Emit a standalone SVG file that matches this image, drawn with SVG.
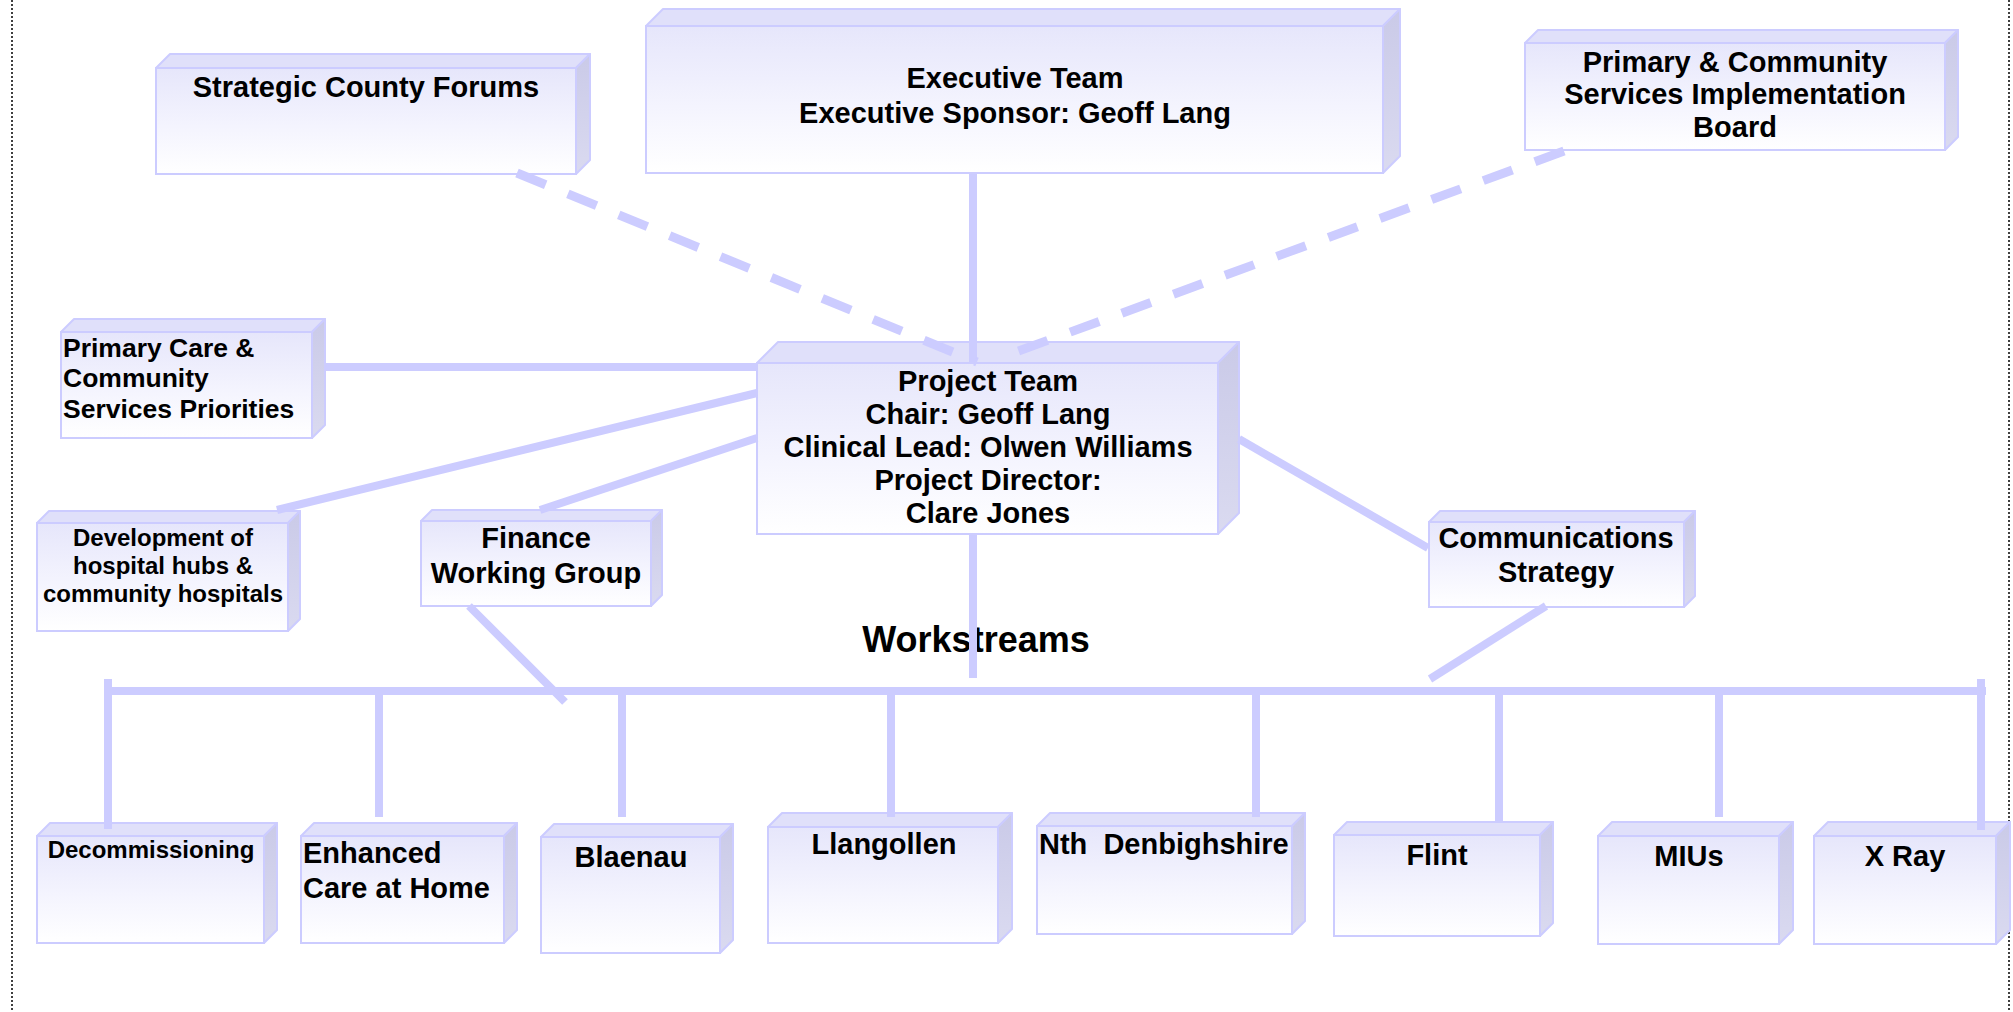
<svg xmlns="http://www.w3.org/2000/svg" width="2013" height="1012" viewBox="0 0 2013 1012">
<defs>
<linearGradient id="fg" x1="0" y1="0" x2="0" y2="1">
<stop offset="0" stop-color="#e6e6fb"/>
<stop offset="0.55" stop-color="#f4f4fe"/>
<stop offset="1" stop-color="#ffffff"/>
</linearGradient>
<linearGradient id="sg" x1="0" y1="0" x2="0" y2="1">
<stop offset="0" stop-color="#cacae8"/>
<stop offset="1" stop-color="#dadaf0"/>
</linearGradient>
</defs>
<style>
.front{fill:url(#fg);stroke:#ccccff;stroke-width:2}
.top{fill:#e0e0fa;stroke:#ccccff;stroke-width:2;stroke-linejoin:round}
.side{fill:url(#sg);stroke:#ccccff;stroke-width:2;stroke-linejoin:round}
text{font-family:"Liberation Sans",Arial,sans-serif;font-weight:bold;fill:#000}
.t28{font-size:29px}
.t25{font-size:26.5px}
.t23{font-size:24px}
.c{text-anchor:middle}
.ln{stroke:#ccccff;stroke-width:8;fill:none}
.dash{stroke:#ccccff;stroke-width:9;fill:none;stroke-dasharray:31 24}
.border{stroke:#000;stroke-width:1.5;stroke-dasharray:2 2;fill:none}
</style>
<rect width="2013" height="1012" fill="#ffffff"/>
<line class="border" x1="12" y1="0" x2="12" y2="1012"/>
<line class="border" x1="2009" y1="0" x2="2009" y2="1012"/>

<g id="strategic">
<polygon class="top" points="156,68 170,54 590,54 576,68"/>
<polygon class="side" points="576,68 590,54 590,160 576,174"/>
<rect class="front" x="156" y="68" width="420" height="106"/>
<text class="t28 c" x="366" y="97">Strategic County Forums</text>
</g>

<g id="executive">
<polygon class="top" points="646,26 663,9 1400,9 1383,26"/>
<polygon class="side" points="1383,26 1400,9 1400,156 1383,173"/>
<rect class="front" x="646" y="26" width="737" height="147"/>
<text class="t28 c" x="1015" y="88">Executive Team</text>
<text class="t28 c" x="1015" y="123">Executive Sponsor: Geoff Lang</text>
</g>

<g id="board">
<polygon class="top" points="1525,43 1538,30 1958,30 1945,43"/>
<polygon class="side" points="1945,43 1958,30 1958,137 1945,150"/>
<rect class="front" x="1525" y="43" width="420" height="107"/>
<text class="t28 c" x="1735" y="72">Primary &amp; Community</text>
<text class="t28 c" x="1735" y="104">Services Implementation</text>
<text class="t28 c" x="1735" y="137">Board</text>
</g>

<g id="primary-care">
<polygon class="top" points="61,332 74,319 325,319 312,332"/>
<polygon class="side" points="312,332 325,319 325,425 312,438"/>
<rect class="front" x="61" y="332" width="251" height="106"/>
<text class="t25" x="63" y="357">Primary Care &amp;</text>
<text class="t25" x="63" y="387">Community</text>
<text class="t25" x="63" y="418">Services Priorities</text>
</g>

<g id="project-team">
<polygon class="top" points="757,363 778,342 1239,342 1218,363"/>
<polygon class="side" points="1218,363 1239,342 1239,513 1218,534"/>
<rect class="front" x="757" y="363" width="461" height="171"/>
<text class="t28 c" x="988" y="391">Project Team</text>
<text class="t28 c" x="988" y="424">Chair: Geoff Lang</text>
<text class="t28 c" x="988" y="457">Clinical Lead: Olwen Williams</text>
<text class="t28 c" x="988" y="490">Project Director:</text>
<text class="t28 c" x="988" y="523">Clare Jones</text>
</g>

<g id="development">
<polygon class="top" points="37,523 49,511 300,511 288,523"/>
<polygon class="side" points="288,523 300,511 300,619 288,631"/>
<rect class="front" x="37" y="523" width="251" height="108"/>
<text class="t23 c" x="163" y="546">Development of</text>
<text class="t23 c" x="163" y="574">hospital hubs &amp;</text>
<text class="t23 c" x="163" y="602">community hospitals</text>
</g>

<g id="finance">
<polygon class="top" points="421,521 432,510 662,510 651,521"/>
<polygon class="side" points="651,521 662,510 662,595 651,606"/>
<rect class="front" x="421" y="521" width="230" height="85"/>
<text class="t28 c" x="536" y="548">Finance</text>
<text class="t28 c" x="536" y="583">Working Group</text>
</g>

<g id="communications">
<polygon class="top" points="1429,522 1440,511 1695,511 1684,522"/>
<polygon class="side" points="1684,522 1695,511 1695,596 1684,607"/>
<rect class="front" x="1429" y="522" width="255" height="85"/>
<text class="t28 c" x="1556" y="548">Communications</text>
<text class="t28 c" x="1556" y="582">Strategy</text>
</g>

<g id="workstreams-label">
<text class="c" x="976" y="652" style="font-size:36px">Workstreams</text>
</g>

<g id="decommissioning">
<polygon class="top" points="37,836 50,823 277,823 264,836"/>
<polygon class="side" points="264,836 277,823 277,930 264,943"/>
<rect class="front" x="37" y="836" width="227" height="107"/>
<text class="t23 c" x="151" y="858">Decommissioning</text>
</g>

<g id="enhanced-care">
<polygon class="top" points="301,836 314,823 517,823 504,836"/>
<polygon class="side" points="504,836 517,823 517,930 504,943"/>
<rect class="front" x="301" y="836" width="203" height="107"/>
<text class="t28" x="303" y="863">Enhanced</text>
<text class="t28" x="303" y="898">Care at Home</text>
</g>

<g id="blaenau">
<polygon class="top" points="541,837 554,824 733,824 720,837"/>
<polygon class="side" points="720,837 733,824 733,940 720,953"/>
<rect class="front" x="541" y="837" width="179" height="116"/>
<text class="t28 c" x="631" y="867">Blaenau</text>
</g>

<g id="llangollen">
<polygon class="top" points="768,827 782,813 1012,813 998,827"/>
<polygon class="side" points="998,827 1012,813 1012,929 998,943"/>
<rect class="front" x="768" y="827" width="230" height="116"/>
<text class="t28 c" x="884" y="854">Llangollen</text>
</g>

<g id="nth-denbighshire">
<polygon class="top" points="1037,826 1050,813 1305,813 1292,826"/>
<polygon class="side" points="1292,826 1305,813 1305,921 1292,934"/>
<rect class="front" x="1037" y="826" width="255" height="108"/>
<text class="t28" x="1039" y="854">Nth&#160; Denbighshire</text>
</g>

<g id="flint">
<polygon class="top" points="1334,835 1347,822 1553,822 1540,835"/>
<polygon class="side" points="1540,835 1553,822 1553,923 1540,936"/>
<rect class="front" x="1334" y="835" width="206" height="101"/>
<text class="t28 c" x="1437" y="865">Flint</text>
</g>

<g id="mius">
<polygon class="top" points="1598,836 1612,822 1793,822 1779,836"/>
<polygon class="side" points="1779,836 1793,822 1793,930 1779,944"/>
<rect class="front" x="1598" y="836" width="181" height="108"/>
<text class="t28 c" x="1689" y="866">MIUs</text>
</g>

<g id="xray">
<polygon class="top" points="1814,836 1828,822 2010,822 1996,836"/>
<polygon class="side" points="1996,836 2010,822 2010,930 1996,944"/>
<rect class="front" x="1814" y="836" width="182" height="108"/>
<text class="t28 c" x="1905" y="866">X Ray</text>
</g>

<g id="connectors">
<line class="ln" x1="973" y1="173" x2="973" y2="363"/>
<line class="dash" x1="517" y1="173" x2="977" y2="362"/>
<line class="dash" x1="1564" y1="151" x2="1005" y2="356"/>
<line class="ln" x1="325" y1="367" x2="757" y2="367"/>
<line class="ln" x1="277" y1="510" x2="757" y2="393"/>
<line class="ln" x1="540" y1="510" x2="757" y2="438"/>
<line class="ln" x1="1239" y1="439" x2="1428" y2="548"/>
<line class="ln" x1="469" y1="606" x2="565" y2="702"/>
<line class="ln" x1="1546" y1="606" x2="1430" y2="679"/>
<line class="ln" x1="973" y1="534" x2="973" y2="678"/>
<line class="ln" x1="105" y1="691" x2="1986" y2="691"/>
<line class="ln" x1="108" y1="679" x2="108" y2="829"/>
<line class="ln" x1="379" y1="691" x2="379" y2="817"/>
<line class="ln" x1="622" y1="691" x2="622" y2="817"/>
<line class="ln" x1="891" y1="691" x2="891" y2="817"/>
<line class="ln" x1="1256" y1="691" x2="1256" y2="817"/>
<line class="ln" x1="1499" y1="691" x2="1499" y2="821"/>
<line class="ln" x1="1719" y1="691" x2="1719" y2="817"/>
<line class="ln" x1="1981" y1="679" x2="1981" y2="830"/>
</g>
</svg>
